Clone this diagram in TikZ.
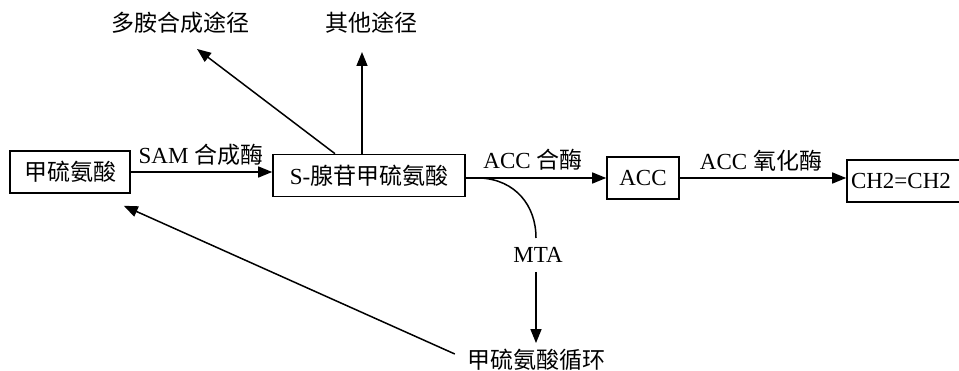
\documentclass[tikz,border=0pt]{standalone}
\usepackage{fontspec}
\setmainfont{Liberation Serif}
\newfontfamily\cjk{Noto Sans CJK SC}
\usetikzlibrary{arrows.meta,calc}
\newcommand{\zh}[1]{{\cjk #1}}
\begin{document}
\begin{tikzpicture}[x=1pt,y=-1pt,
  every node/.style={font=\fontsize{23}{27}\selectfont, inner sep=0pt},
  boxnode/.style={draw, line width=1.6pt, minimum height=42pt, anchor=center},
  arr/.style={line width=1.5pt, -{Triangle[length=14pt,width=11pt]}},
  ln/.style={line width=1.5pt}]
\useasboundingbox (0,0) rectangle (959,371);
% boxes
\node[boxnode, minimum width=120pt] (m1) at (70,172) {\zh{甲硫氨酸}};
\node[boxnode, minimum width=192pt] (sam) at (369,175.5) {S-\zh{腺苷甲硫氨酸}};
\node[boxnode, minimum width=72pt] (acc) at (643,178) {ACC};
\node[boxnode, minimum width=118pt, inner xsep=4pt, text width=110pt, align=left] (eth) at (906,181) {CH2=CH2};
% free texts
\node (duo) at (180,23) {\zh{多胺合成途径}};
\node (qita) at (371,23) {\zh{其他途径}};
\node (mta) at (538,255) {MTA};
\node (cyc) at (536,360) {\zh{甲硫氨酸循环}};
% labels
\node (l1) at (201,155) {SAM \zh{合成酶}};
\node (l2) at (533,160) {ACC \zh{合酶}};
\node (l3) at (761,161) {ACC \zh{氧化酶}};
% connectors
\draw[arr] (m1.east) -- (m1.east -| sam.west);
\draw[arr] (sam.east |- acc.west) -- (acc.west);
\draw[arr] (acc.east) -- (acc.east -| eth.west);
\coordinate (cs) at ($(sam.east |- acc.west)+(15,0)$);
\draw[ln] (cs) .. controls (515,180) and (536,205) .. (536,238);
\draw[arr] (536,272) -- ([yshift=6pt]cyc.north -| 536,0);
\draw[arr] ([xshift=-34pt]sam.north) -- ([shift={(17pt,-15pt)}]duo.south);
\draw[arr] ([xshift=-7pt]sam.north) -- ([xshift=-7pt]sam.north |- 0,52);
\draw[arr] ([shift={(-12pt,6pt)}]cyc.west) -- ([shift={(-7pt,-12pt)}]m1.south east);
\end{tikzpicture}
\end{document}
